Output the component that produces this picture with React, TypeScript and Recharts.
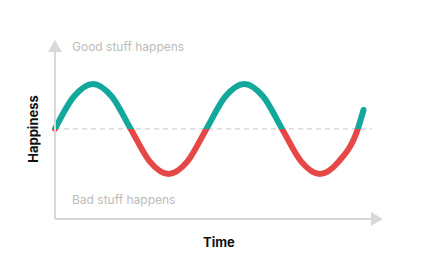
import React from 'react';
import { LineChart, Line, XAxis, YAxis, ReferenceLine } from 'recharts';

const times = [0, 1, 2, 3, 4, 5, 6, 7, 8, 9, 10, 11, 12, 13, 14, 15, 16, 16.3];
const happiness = [0, 0.72, 1, 0.72, 0, -0.72, -1, -0.72, 0, 0.72, 1, 0.72, 0, -0.72, -1, -0.72, 0, 0.42];

const topLabel = 'Good stuff happens';
const bottomLabel = 'Bad stuff happens';
const xTitle = 'Time';
const yTitle = 'Happiness';

const TEAL = '#13a89c';
const RED = '#e64848';
const AXIS = '#d8d8da';

const data = times.map((t, i) => ({ t, v: happiness[i] }));

const App: React.FC = () => {
    const font = 'Inter, "Noto Sans", sans-serif';
    return (
        <div style={{ position: 'absolute', left: 0, top: 0, width: 432, height: 270, fontFamily: font }}>
            <LineChart width={432} height={270} data={data} margin={{ top: 51, right: 60, bottom: 50, left: 54 }}>
                <defs>
                    <linearGradient id="split" x1="0" y1="0" x2="0" y2="1">
                        <stop offset="0.5" stopColor={TEAL} />
                        <stop offset="0.5" stopColor={RED} />
                    </linearGradient>
                    <marker id="arrow" viewBox="0 0 12 14" refX="1" refY="7" markerWidth="12" markerHeight="14"
                        markerUnits="userSpaceOnUse" orient="auto-start-reverse">
                        <path d="M0,0 L12,7 L0,14 Z" fill={AXIS} />
                    </marker>
                </defs>
                <XAxis dataKey="t" type="number" domain={[0, 16.75]} height={1} tick={false} tickLine={false}
                    axisLine={{ stroke: AXIS, strokeWidth: 2, markerEnd: 'url(#arrow)' }} />
                <YAxis type="number" domain={[-2, 1.73]} width={1} tick={false} tickLine={false}
                    axisLine={{ stroke: AXIS, strokeWidth: 2, markerStart: 'url(#arrow)' }} />
                <ReferenceLine y={0} stroke="#d4d4d4" strokeDasharray="5 4" strokeWidth={1.2} />
                <Line type="monotone" dataKey="v" stroke="url(#split)" strokeWidth={6} strokeLinecap="round"
                    dot={false} activeDot={false} isAnimationActive={false} />
            </LineChart>
            <div style={{ position: 'absolute', left: 72, top: 39, fontSize: 12, color: '#bcbcbc' }}>{topLabel}</div>
            <div style={{ position: 'absolute', left: 72, top: 192, fontSize: 12, color: '#bcbcbc' }}>{bottomLabel}</div>
            <div style={{ position: 'absolute', left: 203, top: 234, fontSize: 13, fontWeight: 700, color: '#111' }}>{xTitle}</div>
            <div style={{
                position: 'absolute', left: 33, top: 129, fontSize: 13, fontWeight: 700, color: '#111',
                transform: 'translate(-50%, -50%) rotate(-90deg)', whiteSpace: 'nowrap'
            }}>{yTitle}</div>
        </div>
    );
};

export default App;
